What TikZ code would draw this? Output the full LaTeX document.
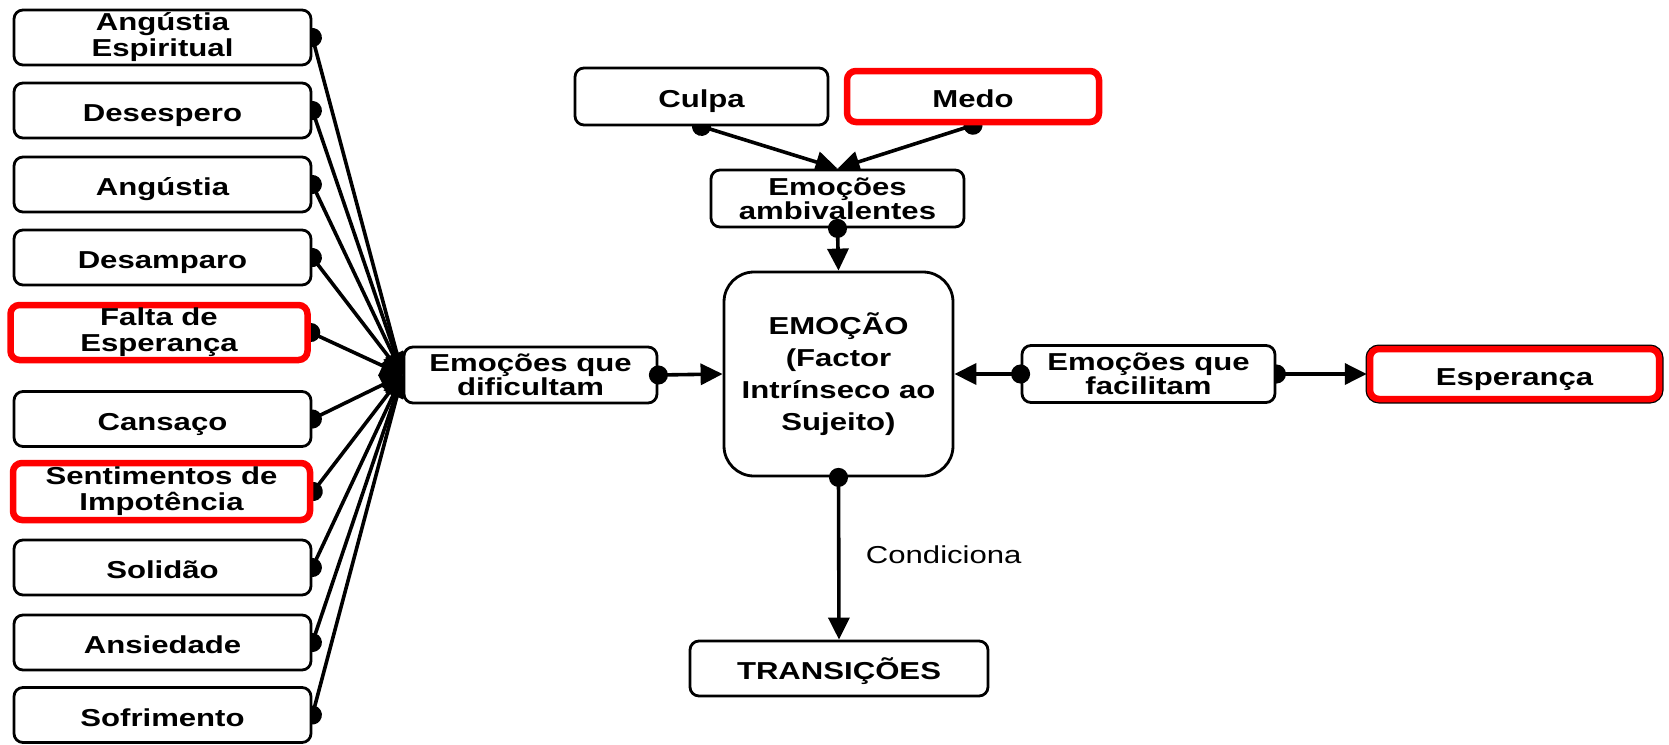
\documentclass[tikz,border=0pt]{standalone}
\usepackage{fontspec}
\setmainfont[FakeStretch=1.27]{Liberation Sans}
\usetikzlibrary{positioning, arrows.meta, backgrounds}

\tikzset{
    box/.style={draw, fill=white, line width=2.8pt, rounded corners=9pt, align=center, inner sep=0pt,
        minimum width=297pt, minimum height=55pt, font=\bfseries\fontsize{24.5}{24}\selectfont},
    redbox/.style={box, draw=red, line width=6.5pt},
    low/.style={execute at begin node={\rule[-7.5pt]{0pt}{37.5pt}}},
    lowtwo/.style={execute at begin node={\rule{0pt}{37pt}}, font=\bfseries\fontsize{24.5}{26}\selectfont},
    link/.style={line width=3.6pt, {Circle[length=19pt]}-{Triangle[length=22pt, width=21pt]}, shorten <=-9.5pt},
}

\begin{document}
\begin{tikzpicture}[x=1pt, y=-1pt]
            \useasboundingbox (0, 0) rectangle (1669, 744);

            % emocoes que dificultam
            \node [box, lowtwo] (b1) at (162.5, 37.5) {Angústia\\Espiritual};
            \node [box, low] (b2) at (162.5, 110.5) {Desespero};
            \node [box, low] (b3) at (162.5, 184.5) {Angústia};
            \node [box, low] (b4) at (162.5, 257.5) {Desamparo};
            \node [redbox, lowtwo] (b5) at (159, 332.5) {Falta de\\Esperança};
            \node [box, low] (b6) at (162.5, 419) {Cansaço};
            \node [redbox, lowtwo, minimum height=57pt] (b7) at (161.5, 491.5) {Sentimentos de\\Impotência};
            \node [box, low] (b8) at (162.5, 567.5) {Solidão};
            \node [box, low] (b9) at (162.5, 642.5) {Ansiedade};
            \node [box, low] (b10) at (162.5, 715) {Sofrimento};

            \node [box, minimum width=253pt, minimum height=56pt] (dific) at (530.5, 375) {Emoções que\\dificultam};

            % emocoes ambivalentes
            \node [box, low, minimum width=253pt, minimum height=57pt] (culpa) at (701.5, 96.5) {Culpa};
            \node [redbox, low, minimum width=252pt, minimum height=51pt] (medo) at (973, 96.5) {Medo};
            \node [box, minimum width=253pt, minimum height=57pt] (ambiv) at (837.5, 198.5) {Emoções\\ambivalentes};

            % centro
            \node [box, minimum width=229pt, minimum height=204pt, rounded corners=30pt,
                font=\bfseries\fontsize{24.5}{32}\selectfont] (emo) at (838.5, 374) {EMOÇÃO\\(Factor\\Intrínseco ao\\Sujeito)};

            \node [box, minimum width=253pt, minimum height=57pt] (facil) at (1148.5, 374) {Emoções que\\facilitam};
            \node [redbox, low, minimum width=289pt, minimum height=50pt,
                preaction={draw=black, line width=9pt}] (esper) at (1514.5, 374) {Esperança};

            \node [box, low, minimum width=298pt, minimum height=55pt] (trans) at (839, 668.5) {TRANSIÇÕES};

            % ligacoes com o ponto meio tapado
            \begin{pgfonlayer}{background}
                \foreach \b in {b1, b2, b3, b4, b5, b6, b7, b8, b9, b10}
                    \draw [link] (\b.east) -- (dific.west);
                \draw [link] (culpa.south) -- (ambiv.north);
                \draw [link] (medo.south) -- (ambiv.north);
                \draw [link] (facil.east) -- (esper.west);
            \end{pgfonlayer}

            \draw [link] (ambiv.south) -- (emo.north);
            \draw [link] (dific.east) -- (emo.west);
            \draw [link] (facil.west) -- (emo.east);
            \draw [link] (emo.south) -- (trans.north)
                node [midway, right=22pt, yshift=4pt, font=\fontsize{24.5}{26}\selectfont] {Condiciona};
        \end{tikzpicture}
\end{document}
